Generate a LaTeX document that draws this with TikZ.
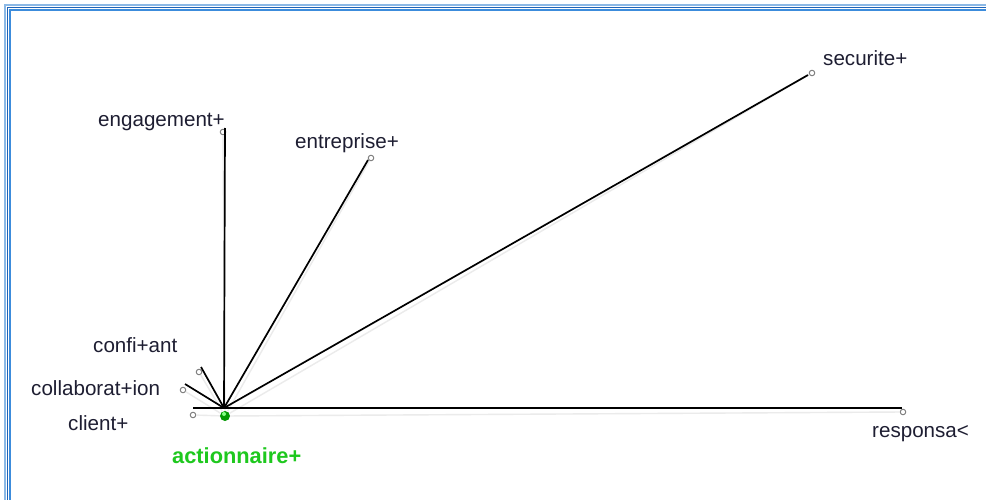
\documentclass[tikz,border=0pt]{standalone}
\usepackage{fontspec}
\setmainfont{Liberation Sans}
\definecolor{frameA}{RGB}{140,185,230}
\definecolor{frameB}{RGB}{30,100,185}
\definecolor{frameC}{RGB}{60,140,220}
\definecolor{txt}{RGB}{30,30,50}
\definecolor{actgreen}{RGB}{30,200,30}
\begin{document}
\begin{tikzpicture}[x=1pt,y=-1pt,
  lbl/.style={anchor=base west,inner sep=0pt,font=\fontsize{20.6}{23}\selectfont,text=txt},
  endpt/.style={circle,draw=gray,line width=1pt,fill=white,minimum size=5.5pt,inner sep=0pt},
  edge/.style={line width=1.7pt,black},
  shade/.style={line width=1.4pt,black!8}]
\useasboundingbox (0,0) rectangle (986,500);
\fill[white] (0,0) rectangle (986,500);
% frame
\draw[line width=1.2pt,frameA] (5,500) -- (5,5) -- (986,5);
\draw[line width=1.5pt,frameB] (7.5,500) -- (7.5,7.5) -- (986,7.5);
\draw[line width=1.2pt,frameC] (10,500) -- (10,10) -- (986,10);
% hub
\coordinate (hub) at (224,408);
\node[circle,fill=green!60!black,minimum size=10pt,inner sep=0pt] (act) at (225,416) {};
\node[circle,fill=green!50!white,minimum size=4pt,inner sep=0pt] at (224,414) {};
% end points
\node[endpt] (eng) at (223,132) {};
\node[endpt] (ent) at (371,158) {};
\node[endpt] (sec) at (812,73) {};
\node[endpt] (res) at (903,412) {};
\node[endpt] (cof) at (199,372) {};
\node[endpt] (col) at (183,390) {};
\node[endpt] (cli) at (193,415) {};
% shadow lines
\foreach \n in {eng,ent,sec,res,cof,col,cli} \draw[shade] (act) -- (\n);
% edges
\draw[edge] (hub) -- (225,128);
\draw[edge] (hub) -- (368,160);
\draw[edge] (hub) -- (808,75);
\draw[edge] (hub) -- (902,408);
\draw[edge] (hub) -- (201,367);
\draw[edge] (hub) -- (185,384);
\draw[edge] (hub) -- (193,408);
% labels
\node[lbl] (leng) at (98,127) {engagement+};
\node[lbl] (lent) at (295,149) {entreprise+};
\node[lbl] (lsec) at (823,66) {securite+};
\node[lbl] (lres) at (872,437) {responsa<};
\node[lbl] (lcof) at (93,352) {confi+ant};
\node[lbl] (lcol) at (31,395) {collaborat+ion};
\node[lbl] (lcli) at (68,430) {client+};
\node[lbl,text=actgreen,font=\fontsize{21.8}{24}\selectfont\bfseries] (lact) at (172,463) {actionnaire+};
\end{tikzpicture}
\end{document}
